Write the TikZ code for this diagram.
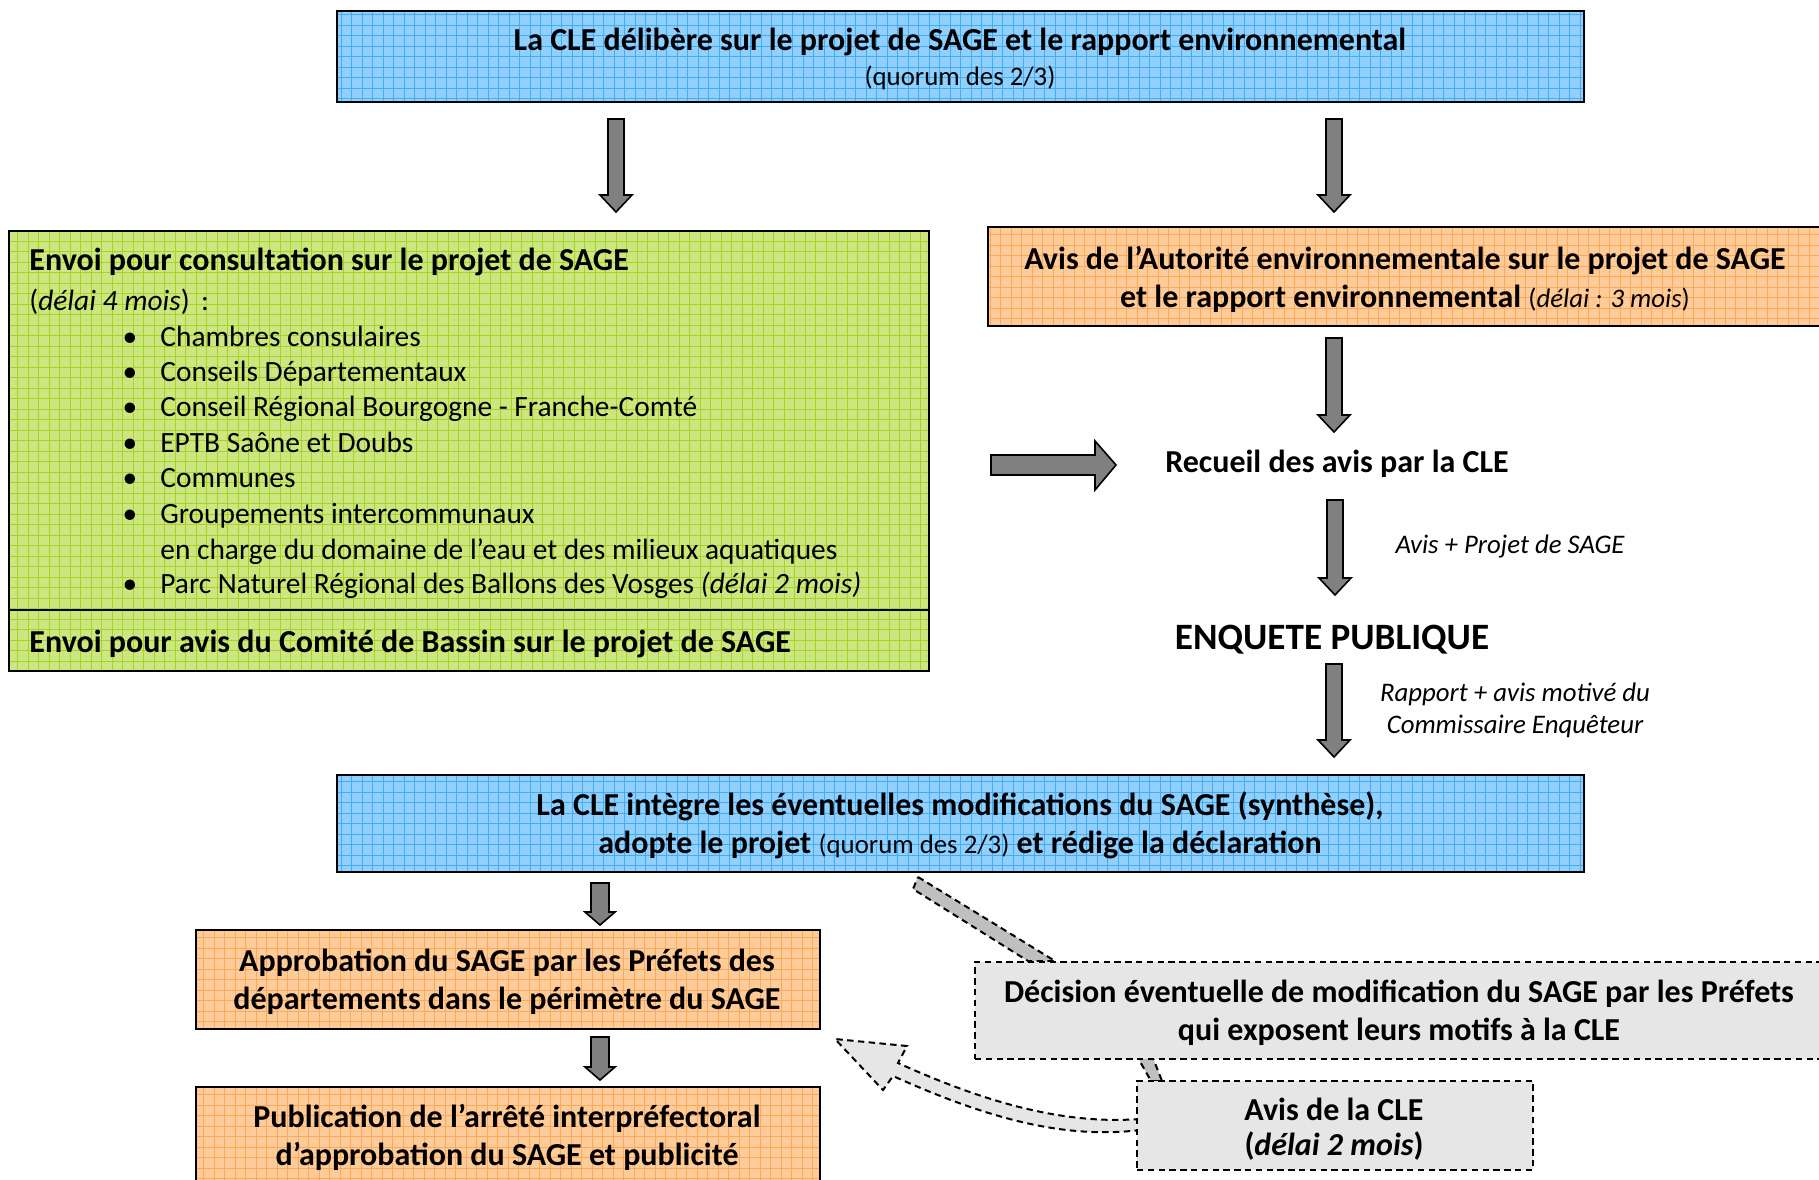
\documentclass[tikz,border=0pt]{standalone}
\usepackage{fontspec}
\setmainfont{Carlito}
\usetikzlibrary{calc}
\definecolor{bluefill}{HTML}{8FD0FF}
\definecolor{blueline}{HTML}{45ABF2}
\definecolor{greenfill}{HTML}{CCE680}
\definecolor{greenline}{HTML}{A6D22A}
\definecolor{orangefill}{HTML}{FFCB98}
\definecolor{orangeline}{HTML}{FBA95A}
\definecolor{grayfill}{HTML}{E6E6E6}
\definecolor{bandfill}{HTML}{BFBFBF}
\definecolor{arrowgray}{HTML}{808080}
\newcommand{\bdown}[7]{% name x ytop ybot halfshaft halfhead headlen
  \draw[blkarrow] (#2-#5,#3) -- (#2+#5,#3) -- (#2+#5,#4-#7) -- (#2+#6,#4-#7) -- (#2,#4) -- (#2-#6,#4-#7) -- (#2-#5,#4-#7) -- cycle;
  \coordinate (#1) at (#2,#4);}
\newcommand{\smallfont}{\fontsize{13.4pt}{16pt}\selectfont}
\tikzset{
  gridbox/.style 2 args={draw=black, line width=1pt, fill=#1, inner sep=0pt, anchor=north west,
    path picture={\draw[#2, line width=0.5pt, step=5.25pt] (path picture bounding box.south west) grid (path picture bounding box.north east);}},
  dashbox/.style={draw=black, line width=1pt, dash pattern=on 3.2pt off 2.2pt, fill=grayfill, inner sep=0pt, anchor=north west},
  blkarrow/.style={draw=black, line width=0.8pt, fill=arrowgray, line join=miter},
  big/.style={font=\fontsize{14.7pt}{17pt}\selectfont, inner sep=0pt, anchor=base},
  bigb/.style={font=\fontsize{16pt}{19pt}\selectfont\bfseries, inner sep=0pt, anchor=base},
  small/.style={font=\smallfont, inner sep=0pt, anchor=base},
  smalli/.style={font=\smallfont\itshape, inner sep=0pt, anchor=base},
}
\begin{document}
\begin{tikzpicture}[x=0.5pt,y=-0.5pt]
\useasboundingbox (0,0) rectangle (1819,1179);
% boxes
\node[gridbox={bluefill}{blueline}, minimum width=623.5pt, minimum height=45.5pt] (top) at (336,10) {};
\node[gridbox={greenfill}{greenline}, minimum width=460pt, minimum height=220pt] (green) at (8,230) {};
\draw[line width=1pt] (8,610) coordinate (gdivl) -- (928,610) coordinate (gdivr);
\node[gridbox={orangefill}{orangeline}, minimum width=422pt, minimum height=49.5pt] (ae) at (987,226) {};
\node[gridbox={bluefill}{blueline}, minimum width=623.5pt, minimum height=48.5pt] (cle2) at (336,774) {};
\node[gridbox={orangefill}{orangeline}, minimum width=312pt, minimum height=49.5pt] (appro) at (195,929) {};
\node[gridbox={orangefill}{orangeline}, minimum width=312pt, minimum height=60pt] (publi) at (195,1086) {};
% dashed bands
\draw[dashbox, fill=bandfill] (918,877) coordinate (bandA) -- (1055,961) -- (1028,961) -- (913,889) -- cycle;
\draw[dashbox, fill=bandfill] (1138,1058) coordinate (bandB) -- (1153,1058) -- (1162,1081) -- (1151,1081) -- cycle;
% curved arrow
\draw[dashbox] (1140,1119) coordinate (cstart) .. controls (1060,1125) and (980,1100) .. (898,1063) -- (907,1046) -- (835,1039) coordinate (ctip) -- (883,1090) -- (893,1076) .. controls (980,1115) and (1060,1140) .. (1140,1130);
\node[dashbox, minimum width=428pt, minimum height=48.5pt] (deci) at (974,961) {};
\node[dashbox, minimum width=198pt, minimum height=44.5pt] (avis) at (1136,1080) {};
% block arrows
\bdown{a1}{616}{119}{212}{8}{16}{17}
\bdown{a2}{1334}{119}{212}{8}{16}{17}
\bdown{a3}{1334}{338}{432}{8}{16}{17}
\bdown{a4}{1335}{500}{595}{8}{16}{17}
\bdown{a5}{1334}{664}{757}{8}{16}{17}
\bdown{a6}{600}{883}{925}{9}{15}{13}
\bdown{a7}{600}{1037}{1080}{9}{15}{13}
\draw[blkarrow] (991,455) coordinate (hA) -- (1095,455) -- (1095,441) -- (1116,465) coordinate (hB) -- (1095,490) -- (1095,475) -- (991,475) -- cycle;
% texts
\begin{scope}[yshift=-1pt]
\node[bigb] (t1) at (960,48) {La CLE délibère sur le projet de SAGE et le rapport environnemental};
\node[small] (t2) at (960,83) {(quorum des 2/3)};
\node[bigb, anchor=base west] (g1) at (29,268) {Envoi pour consultation sur le projet de SAGE};
\node[big, anchor=base west] (g2) at (29,308) {(\textit{délai 4 mois})\, :};
\foreach \yy/\tx [count=\i] in {344/Chambres consulaires, 379/Conseils Départementaux, 414/Conseil Régional Bourgogne - Franche-Comté, 450/EPTB Saône et Doubs, 485/Communes, 521/Groupements intercommunaux}{
  \node[big] (b\i) at (130,\yy) {•};
  \node[big, anchor=base west] (l\i) at (160,\yy) {\tx};
}
\node[big, anchor=base west] (l7) at (160,557) {en charge du domaine de l’eau et des milieux aquatiques};
\node[big] (b8) at (130,591) {•};
\node[big, anchor=base west] (l8) at (160,591) {Parc Naturel Régional des Ballons des Vosges \textit{(délai 2 mois)}};
\node[bigb, anchor=base west] (g3) at (29,650) {Envoi pour avis du Comité de Bassin sur le projet de SAGE};
\node[bigb] (ae1) at (1405,267) {Avis de l’Autorité environnementale sur le projet de SAGE};
\node[bigb] (ae2) at (1405,305) {et le rapport environnemental {\mdseries\smallfont (\textit{délai : 3 mois})}};
\node[bigb] (rec) at (1337,470) {Recueil des avis par la CLE};
\node[smalli] (ap) at (1510,551) {Avis + Projet de SAGE};
\node[font=\fontsize{18.6pt}{22pt}\selectfont\bfseries, inner sep=0pt, anchor=base] (ep) at (1332,647) {ENQUETE PUBLIQUE};
\node[smalli] (rp1) at (1515,699) {Rapport + avis motivé du};
\node[smalli] (rp2) at (1515,731) {Commissaire Enquêteur};
\node[bigb] (c1) at (960,813) {La CLE intègre les éventuelles modifications du SAGE (synthèse),};
\node[bigb] (c2) at (960,851) {adopte le projet {\mdseries\smallfont (quorum des 2/3)} et rédige la déclaration};
\node[bigb] (p1) at (507,969) {Approbation du SAGE par les Préfets des};
\node[bigb] (p2) at (507,1007) {départements dans le périmètre du SAGE};
\node[bigb] (q1) at (507,1125) {Publication de l’arrêté interpréfectoral};
\node[bigb] (q2) at (507,1163) {d’approbation du SAGE et publicité};
\node[bigb] (d1) at (1399,1000) {Décision éventuelle de modification du SAGE par les Préfets};
\node[bigb] (d2) at (1399,1038) {qui exposent leurs motifs à la CLE};
\node[bigb] (v1) at (1334,1118) {Avis de la CLE};
\node[bigb] (v2) at (1334,1153) {(\textit{délai 2 mois})};
\end{scope}
\end{tikzpicture}
\end{document}
